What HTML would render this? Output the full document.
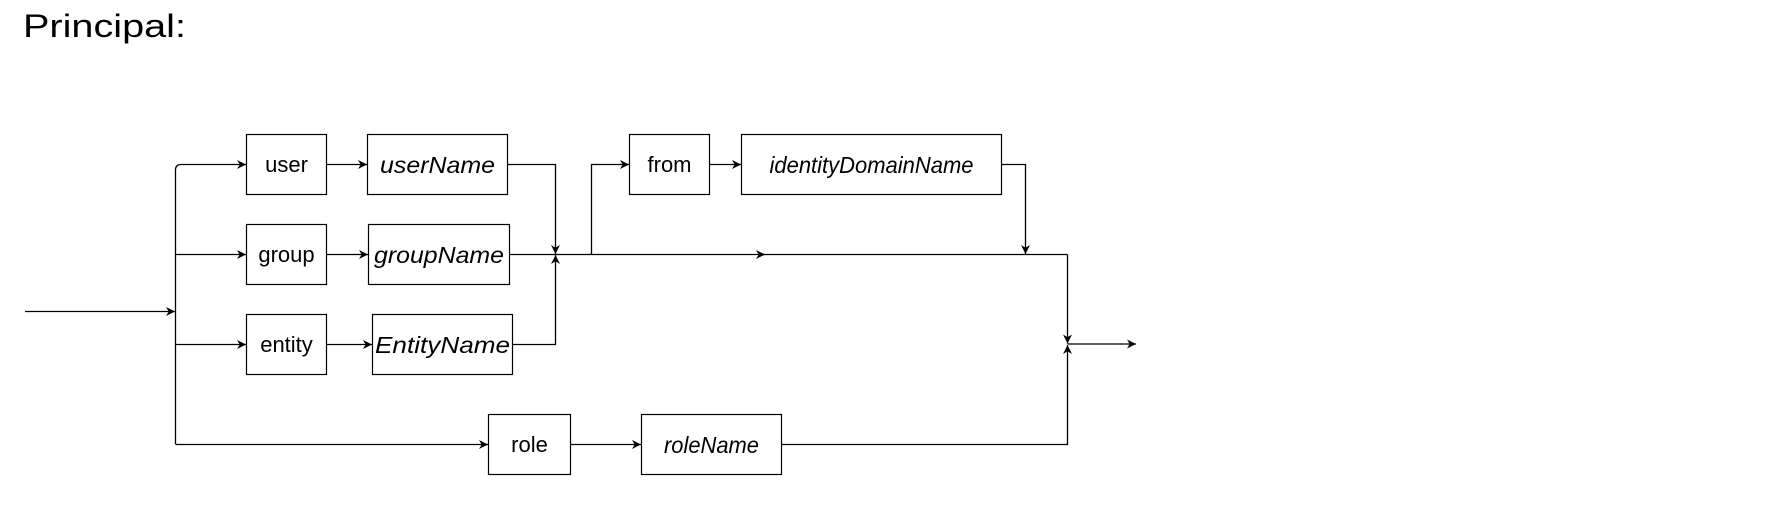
<!DOCTYPE html>
<html><head><meta charset="utf-8"><style>
html,body{margin:0;padding:0;background:#fff;}
svg{display:block;}
text{font-family:"Liberation Sans",sans-serif;fill:#000;}
</style></head><body>
<svg width="1769" height="505" viewBox="0 0 1769 505" xmlns="http://www.w3.org/2000/svg">
<defs>
<marker id="a" viewBox="0 0 10 10" refX="10" refY="5" markerWidth="9" markerHeight="9" orient="auto" markerUnits="userSpaceOnUse">
<path d="M0,0 L10,5 L0,10 L3,5 z" fill="#000"/>
</marker>
</defs>
<text x="23" y="37" font-size="32" textLength="163" lengthAdjust="spacingAndGlyphs">Principal:</text>
<g fill="none" stroke="#000" stroke-width="1.3">
<line x1="25" y1="311.5" x2="175" y2="311.5" marker-end="url(#a)"/>
<path d="M175.5,444 L175.5,170 Q175.5,164.5 181,164.5 L246,164.5" marker-end="url(#a)"/>
<line x1="175.5" y1="254.5" x2="246" y2="254.5" marker-end="url(#a)"/>
<line x1="175.5" y1="344.5" x2="246" y2="344.5" marker-end="url(#a)"/>
<line x1="175.5" y1="444.5" x2="488" y2="444.5" marker-end="url(#a)"/>
<line x1="326" y1="164.5" x2="367" y2="164.5" marker-end="url(#a)"/>
<line x1="326" y1="254.5" x2="368" y2="254.5" marker-end="url(#a)"/>
<line x1="326" y1="344.5" x2="372" y2="344.5" marker-end="url(#a)"/>
<line x1="570" y1="444.5" x2="641" y2="444.5" marker-end="url(#a)"/>
<path d="M507,164.5 L555.5,164.5 L555.5,254" marker-end="url(#a)"/>
<path d="M512,344.5 L555.5,344.5 L555.5,255" marker-end="url(#a)"/>
<line x1="510" y1="254.5" x2="555" y2="254.5"/>
<line x1="555" y1="254.5" x2="765" y2="254.5" marker-end="url(#a)"/>
<line x1="763" y1="254.5" x2="1067.5" y2="254.5"/>
<path d="M591.5,254.5 L591.5,164.5 L629,164.5" marker-end="url(#a)"/>
<line x1="709" y1="164.5" x2="741" y2="164.5" marker-end="url(#a)"/>
<path d="M1001,164.5 L1025.5,164.5 L1025.5,254" marker-end="url(#a)"/>
<path d="M1067.5,254.5 L1067.5,343.5" marker-end="url(#a)"/>
<path d="M781,444.5 L1067.5,444.5 L1067.5,345" marker-end="url(#a)"/>
<line x1="1067.5" y1="344" x2="1136" y2="344" marker-end="url(#a)"/>
</g>
<g fill="#fff" stroke="#000" stroke-width="1.2">
<rect x="246.5" y="134.5" width="80" height="60"/>
<rect x="367.5" y="134.5" width="140" height="60"/>
<rect x="246.5" y="224.5" width="80" height="60"/>
<rect x="368.5" y="224.5" width="141" height="60"/>
<rect x="246.5" y="314.5" width="80" height="60"/>
<rect x="372.5" y="314.5" width="140" height="60"/>
<rect x="488.5" y="414.5" width="82" height="60"/>
<rect x="641.5" y="414.5" width="140" height="60"/>
<rect x="629.5" y="134.5" width="80" height="60"/>
<rect x="741.5" y="134.5" width="260" height="60"/>
</g>
<g font-size="22" text-anchor="middle">
<text x="286.5" y="172">user</text>
<text x="286.5" y="262">group</text>
<text x="286.5" y="352">entity</text>
<text x="529.5" y="452">role</text>
<text x="669.5" y="172">from</text>
</g>
<g font-size="23" font-style="italic" text-anchor="middle">
<text x="437.5" y="173" textLength="115" lengthAdjust="spacingAndGlyphs">userName</text>
<text x="439" y="263" textLength="130" lengthAdjust="spacingAndGlyphs">groupName</text>
<text x="442.5" y="353" textLength="135" lengthAdjust="spacingAndGlyphs">EntityName</text>
<text x="711.5" y="453" textLength="95" lengthAdjust="spacingAndGlyphs">roleName</text>
<text x="871.5" y="173" textLength="204" lengthAdjust="spacingAndGlyphs">identityDomainName</text>
</g>
</svg>
</body></html>
